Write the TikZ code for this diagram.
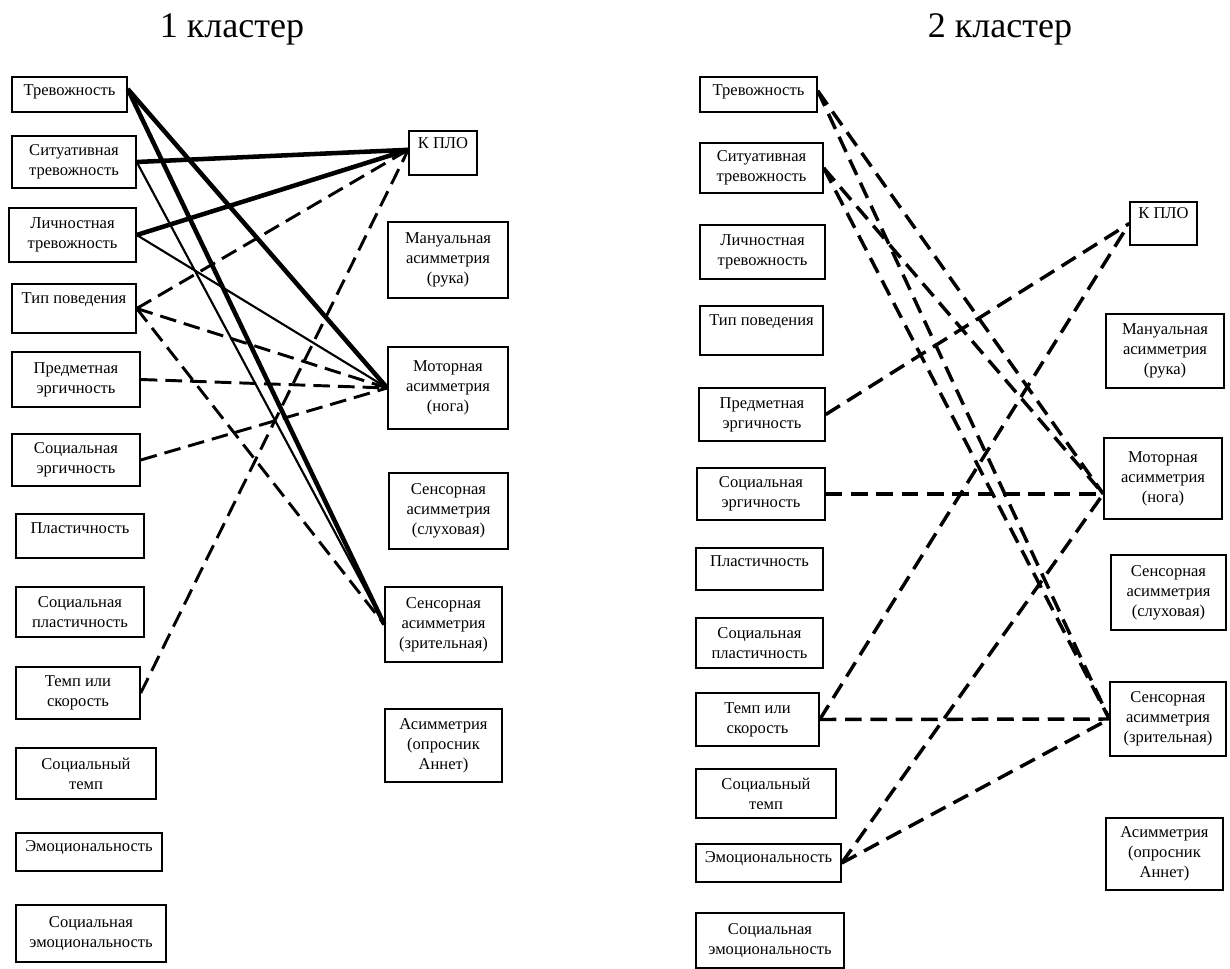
\documentclass[tikz,border=0pt]{standalone}
\usepackage{fontspec}
\setmainfont{Liberation Serif}
\usetikzlibrary{calc}
% box by its corners in pixel units: name, x1, y1, x2, y2, text
\newcommand\pbox[6]{%
  \node[box,minimum width={(#4-#2)*0.75pt},minimum height={(#5-#3)*0.75pt}]
    (#1) at ({(#2+#4)/2},{(#3+#5)/2}) {#6};}
\begin{document}
\begin{tikzpicture}[x=0.75pt,y=-0.75pt,
  box/.style={draw,line width=1.1pt,inner sep=0pt,align=center,
    font=\fontsize{12.4}{15}\selectfont},
  bold link/.style={line width=3.4pt},
  thin link/.style={line width=1.6pt},
  dash link/.style={line width=2.2pt,dash pattern=on 12.5pt off 6pt},
  dash link2/.style={line width=2.6pt,dash pattern=on 12.5pt off 6.5pt},
  title/.style={font=\fontsize{27}{32}\selectfont,anchor=base}]

\fill[white] (0,0) rectangle (1230,969);
\useasboundingbox (0,0) rectangle (1230,969);

% ---------- cluster 1 ----------
\node[title] (title1) at (232,38) {1 кластер};

\pbox{T1}{12}{77}{127}{112}{Тревожность\\[-8pt]~}
\pbox{S1}{12}{136}{136}{188}{Ситуативная\\тревожность}
\pbox{L1}{9}{208}{136}{262}{Личностная\\тревожность}
\pbox{Tp1}{12}{284}{136}{333}{Тип поведения\\~}
\pbox{P1}{12}{352}{140}{407}{Предметная\\эргичность}
\pbox{SE1}{12}{434}{140}{486}{Социальная\\эргичность}
\pbox{Pl1}{16}{514}{144}{558}{Пластичность\\[-3pt]~}
\pbox{SP1}{16}{587}{144}{637}{Социальная\\пластичность}
\pbox{Tm1}{16}{667}{140}{719}{Темп или\\скорость}
\pbox{ST1}{16}{748}{156}{799}{Социальный\\темп}
\pbox{E1}{16}{833}{162}{871}{Эмоциональность\\[-6pt]~}
\pbox{SEm1}{16}{905}{166}{962}{Социальная\\эмоциональность}

\pbox{K1}{409}{131}{477}{175}{К ПЛО\\~}
\pbox{M1}{388}{222}{508}{298}{Мануальная\\асимметрия\\(рука)}
\pbox{Mo1}{388}{347}{508}{429}{Моторная\\асимметрия\\(нога)}
\pbox{Ss1}{389}{473}{508}{549}{Сенсорная\\асимметрия\\(слуховая)}
\pbox{Sz1}{385}{587}{502}{662}{Сенсорная\\асимметрия\\(зрительная)}
\pbox{A1}{385}{709}{502}{782}{Асимметрия\\(опросник\\Аннет)}

\coordinate (T1out) at ($(T1.north east)!0.35!(T1.south east)$);
\coordinate (K1in) at ($(K1.north west)!0.43!(K1.south west)$);

\draw[bold link] (T1out) -- (Mo1.west);
\draw[bold link] (T1out) -- (Sz1.west);
\draw[bold link] (S1.east) -- (K1in);
\draw[thin link] (S1.east) -- (Sz1.west);
\draw[bold link] (L1.east) -- (K1in);
\draw[thin link] (L1.east) -- (Mo1.west);
\draw[dash link] (Tp1.east) -- (K1in);
\draw[dash link] (Tp1.east) -- (Mo1.west);
\draw[dash link] (Tp1.east) -- (Sz1.west);
\draw[dash link] (P1.east) -- (Mo1.west);
\draw[dash link] (SE1.east) -- (Mo1.west);
\draw[dash link] (Tm1.east) -- (K1in);

% ---------- cluster 2 ----------
\node[title] (title2) at (1000,38) {2 кластер};

\pbox{T2}{700}{77}{817}{112}{Тревожность\\[-8pt]~}
\pbox{S2}{700}{143}{823}{193}{Ситуативная\\тревожность}
\pbox{L2}{700}{225}{825}{279}{Личностная\\тревожность}
\pbox{Tp2}{700}{306}{823}{355}{Тип поведения\\~}
\pbox{P2}{699}{388}{825}{441}{Предметная\\эргичность}
\pbox{SE2}{697}{468}{825}{520}{Социальная\\эргичность}
\pbox{Pl2}{696}{548}{823}{590}{Пластичность\\[-3pt]~}
\pbox{SP2}{696}{618}{823}{668}{Социальная\\пластичность}
\pbox{Tm2}{696}{693}{819}{746}{Темп или\\скорость}
\pbox{ST2}{696}{769}{836}{818}{Социальный\\темп}
\pbox{E2}{696}{844}{841}{882}{Эмоциональность\\[-6pt]~}
\pbox{SEm2}{696}{913}{844}{968}{Социальная\\эмоциональность}

\pbox{K2}{1130}{202}{1197}{245}{К ПЛО\\~}
\pbox{M2}{1106}{314}{1224}{388}{Мануальная\\асимметрия\\(рука)}
\pbox{Mo2}{1104}{438}{1222}{519}{Моторная\\асимметрия\\(нога)}
\pbox{Ss2}{1111}{555}{1226}{630}{Сенсорная\\асимметрия\\(слуховая)}
\pbox{Sz2}{1110}{682}{1226}{756}{Сенсорная\\асимметрия\\(зрительная)}
\pbox{A2}{1106}{818}{1223}{890}{Асимметрия\\(опросник\\Аннет)}

\coordinate (T2out) at ($(T2.north east)!0.4!(T2.south east)$);
\coordinate (Mo2in) at (Mo2.west |- SE2.east);

\draw[dash link2] (T2out) -- (Mo2in);
\draw[dash link2] (T2out) -- (Sz2.west);
\draw[dash link2] (S2.east) -- (Mo2in);
\draw[dash link2] (S2.east) -- (Sz2.west);
\draw[dash link2] (P2.east) -- (K2.west);
\draw[dash link2] (SE2.east) -- (Mo2in);
\draw[dash link2] (Tm2.east) -- (K2.west);
\draw[dash link2] (Tm2.east) -- (Sz2.west);
\draw[dash link2] (E2.east) -- (Mo2in);
\draw[dash link2] (E2.east) -- (Sz2.west);
\end{tikzpicture}
\end{document}
